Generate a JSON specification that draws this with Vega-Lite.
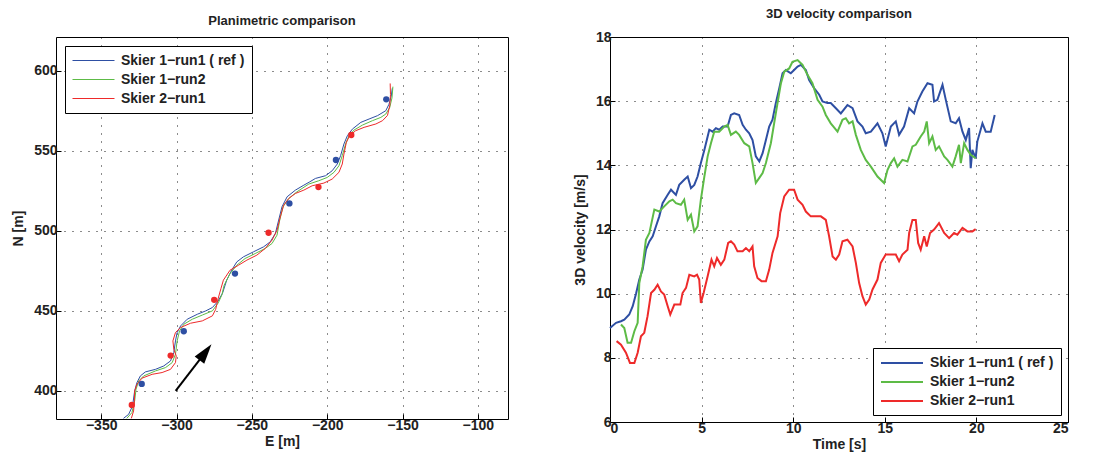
{
  "$schema": "https://vega.github.io/schema/vega-lite/v6.json",
  "background": "white",
  "padding": {"left": 11, "top": 7, "right": 5, "bottom": 5},
  "config": {
    "font": "Liberation Sans",
    "view": {"stroke": "black", "strokeWidth": 1},
    "title": {"fontSize": 13, "fontWeight": "bold", "color": "#222", "offset": 9},
    "axis": {"labelFontSize": 14, "labelFontWeight": "bold", "labelColor": "#222", "titleFontSize": 14, "titleFontWeight": "bold", "titleColor": "#222", "grid": true, "gridColor": "black", "gridDash": [1, 7], "gridOpacity": 0.9, "domain": false, "tickColor": "black", "tickSize": -5, "labelPadding": 4}
  },
  "resolve": {"scale": {"color": "independent"}, "legend": {"color": "independent"}},
  "spacing": 63,
  "datasets": {
    "traj": [
      {"series": "Skier 1−run1 ( ref )", "i": 1, "E": -335.2, "N": 382.9},
      {"series": "Skier 1−run1 ( ref )", "i": 2, "E": -331.8, "N": 385.4},
      {"series": "Skier 1−run1 ( ref )", "i": 3, "E": -329.2, "N": 390.6},
      {"series": "Skier 1−run1 ( ref )", "i": 4, "E": -327.8, "N": 400},
      {"series": "Skier 1−run1 ( ref )", "i": 5, "E": -326.3, "N": 405.2},
      {"series": "Skier 1−run1 ( ref )", "i": 6, "E": -324, "N": 409.4},
      {"series": "Skier 1−run1 ( ref )", "i": 7, "E": -320.7, "N": 411.9},
      {"series": "Skier 1−run1 ( ref )", "i": 8, "E": -314, "N": 413.5},
      {"series": "Skier 1−run1 ( ref )", "i": 9, "E": -308.5, "N": 415.6},
      {"series": "Skier 1−run1 ( ref )", "i": 10, "E": -304, "N": 418.75},
      {"series": "Skier 1−run1 ( ref )", "i": 11, "E": -301.8, "N": 424},
      {"series": "Skier 1−run1 ( ref )", "i": 12, "E": -300.7, "N": 431.25},
      {"series": "Skier 1−run1 ( ref )", "i": 13, "E": -299.6, "N": 436.5},
      {"series": "Skier 1−run1 ( ref )", "i": 14, "E": -297.3, "N": 440.6},
      {"series": "Skier 1−run1 ( ref )", "i": 15, "E": -292.9, "N": 444.8},
      {"series": "Skier 1−run1 ( ref )", "i": 16, "E": -286.2, "N": 447.9},
      {"series": "Skier 1−run1 ( ref )", "i": 17, "E": -280.6, "N": 450},
      {"series": "Skier 1−run1 ( ref )", "i": 18, "E": -276.2, "N": 452.1},
      {"series": "Skier 1−run1 ( ref )", "i": 19, "E": -272.5, "N": 456},
      {"series": "Skier 1−run1 ( ref )", "i": 20, "E": -269.5, "N": 461},
      {"series": "Skier 1−run1 ( ref )", "i": 21, "E": -266.7, "N": 469.2},
      {"series": "Skier 1−run1 ( ref )", "i": 22, "E": -263.4, "N": 475.4},
      {"series": "Skier 1−run1 ( ref )", "i": 23, "E": -260, "N": 480.6},
      {"series": "Skier 1−run1 ( ref )", "i": 24, "E": -255.6, "N": 483.75},
      {"series": "Skier 1−run1 ( ref )", "i": 25, "E": -248.9, "N": 486.9},
      {"series": "Skier 1−run1 ( ref )", "i": 26, "E": -242.2, "N": 490},
      {"series": "Skier 1−run1 ( ref )", "i": 27, "E": -237.8, "N": 493.1},
      {"series": "Skier 1−run1 ( ref )", "i": 28, "E": -234.4, "N": 498.3},
      {"series": "Skier 1−run1 ( ref )", "i": 29, "E": -232.2, "N": 506.7},
      {"series": "Skier 1−run1 ( ref )", "i": 30, "E": -230, "N": 515},
      {"series": "Skier 1−run1 ( ref )", "i": 31, "E": -226.6, "N": 521.25},
      {"series": "Skier 1−run1 ( ref )", "i": 32, "E": -221.1, "N": 525.4},
      {"series": "Skier 1−run1 ( ref )", "i": 33, "E": -215.5, "N": 528.5},
      {"series": "Skier 1−run1 ( ref )", "i": 34, "E": -211.5, "N": 530.6},
      {"series": "Skier 1−run1 ( ref )", "i": 35, "E": -207.8, "N": 532.7},
      {"series": "Skier 1−run1 ( ref )", "i": 36, "E": -201.1, "N": 534.4},
      {"series": "Skier 1−run1 ( ref )", "i": 37, "E": -196.7, "N": 537.5},
      {"series": "Skier 1−run1 ( ref )", "i": 38, "E": -193.3, "N": 541.7},
      {"series": "Skier 1−run1 ( ref )", "i": 39, "E": -191.1, "N": 546.9},
      {"series": "Skier 1−run1 ( ref )", "i": 40, "E": -188.9, "N": 554.2},
      {"series": "Skier 1−run1 ( ref )", "i": 41, "E": -186.6, "N": 559.4},
      {"series": "Skier 1−run1 ( ref )", "i": 42, "E": -183.3, "N": 563.5},
      {"series": "Skier 1−run1 ( ref )", "i": 43, "E": -177.7, "N": 567.7},
      {"series": "Skier 1−run1 ( ref )", "i": 44, "E": -172.2, "N": 569.8},
      {"series": "Skier 1−run1 ( ref )", "i": 45, "E": -166.6, "N": 571.9},
      {"series": "Skier 1−run1 ( ref )", "i": 46, "E": -161.1, "N": 575},
      {"series": "Skier 1−run1 ( ref )", "i": 47, "E": -159, "N": 579},
      {"series": "Skier 1−run1 ( ref )", "i": 48, "E": -157.5, "N": 584},
      {"series": "Skier 1−run1 ( ref )", "i": 49, "E": -156.8, "N": 589},
      {"series": "Skier 1−run2", "i": 1, "E": -333, "N": 382.9},
      {"series": "Skier 1−run2", "i": 2, "E": -329.6, "N": 386.5},
      {"series": "Skier 1−run2", "i": 3, "E": -327.8, "N": 393.75},
      {"series": "Skier 1−run2", "i": 4, "E": -326.9, "N": 401},
      {"series": "Skier 1−run2", "i": 5, "E": -325.1, "N": 406.25},
      {"series": "Skier 1−run2", "i": 6, "E": -321.8, "N": 409.4},
      {"series": "Skier 1−run2", "i": 7, "E": -314, "N": 412.5},
      {"series": "Skier 1−run2", "i": 8, "E": -307.3, "N": 414.6},
      {"series": "Skier 1−run2", "i": 9, "E": -302.9, "N": 417.7},
      {"series": "Skier 1−run2", "i": 10, "E": -300.7, "N": 422.9},
      {"series": "Skier 1−run2", "i": 11, "E": -299.6, "N": 431.25},
      {"series": "Skier 1−run2", "i": 12, "E": -298, "N": 437.5},
      {"series": "Skier 1−run2", "i": 13, "E": -295.1, "N": 441.7},
      {"series": "Skier 1−run2", "i": 14, "E": -289.5, "N": 444.8},
      {"series": "Skier 1−run2", "i": 15, "E": -282.9, "N": 447.4},
      {"series": "Skier 1−run2", "i": 16, "E": -276.2, "N": 450},
      {"series": "Skier 1−run2", "i": 17, "E": -272.3, "N": 455},
      {"series": "Skier 1−run2", "i": 18, "E": -269.9, "N": 460},
      {"series": "Skier 1−run2", "i": 19, "E": -268.4, "N": 466},
      {"series": "Skier 1−run2", "i": 20, "E": -264.5, "N": 473.3},
      {"series": "Skier 1−run2", "i": 21, "E": -260, "N": 478.5},
      {"series": "Skier 1−run2", "i": 22, "E": -254.5, "N": 482.7},
      {"series": "Skier 1−run2", "i": 23, "E": -247.8, "N": 485.8},
      {"series": "Skier 1−run2", "i": 24, "E": -241.1, "N": 489},
      {"series": "Skier 1−run2", "i": 25, "E": -236.6, "N": 492.1},
      {"series": "Skier 1−run2", "i": 26, "E": -233.3, "N": 497.3},
      {"series": "Skier 1−run2", "i": 27, "E": -231.5, "N": 506.7},
      {"series": "Skier 1−run2", "i": 28, "E": -229.3, "N": 515},
      {"series": "Skier 1−run2", "i": 29, "E": -225.5, "N": 520.2},
      {"series": "Skier 1−run2", "i": 30, "E": -220, "N": 524.4},
      {"series": "Skier 1−run2", "i": 31, "E": -212.2, "N": 529.2},
      {"series": "Skier 1−run2", "i": 32, "E": -205.6, "N": 531.25},
      {"series": "Skier 1−run2", "i": 33, "E": -200, "N": 533.3},
      {"series": "Skier 1−run2", "i": 34, "E": -195.5, "N": 536.5},
      {"series": "Skier 1−run2", "i": 35, "E": -192.2, "N": 540.6},
      {"series": "Skier 1−run2", "i": 36, "E": -190, "N": 546.9},
      {"series": "Skier 1−run2", "i": 37, "E": -187.8, "N": 554.2},
      {"series": "Skier 1−run2", "i": 38, "E": -185.5, "N": 559.4},
      {"series": "Skier 1−run2", "i": 39, "E": -182.2, "N": 562.9},
      {"series": "Skier 1−run2", "i": 40, "E": -176.6, "N": 566},
      {"series": "Skier 1−run2", "i": 41, "E": -170, "N": 568.75},
      {"series": "Skier 1−run2", "i": 42, "E": -164.4, "N": 570.8},
      {"series": "Skier 1−run2", "i": 43, "E": -161.1, "N": 572.9},
      {"series": "Skier 1−run2", "i": 44, "E": -158.5, "N": 577},
      {"series": "Skier 1−run2", "i": 45, "E": -157, "N": 583},
      {"series": "Skier 1−run2", "i": 46, "E": -156.4, "N": 590},
      {"series": "Skier 2−run1", "i": 1, "E": -330, "N": 382.9},
      {"series": "Skier 2−run1", "i": 2, "E": -328.5, "N": 387.5},
      {"series": "Skier 2−run1", "i": 3, "E": -328, "N": 393.75},
      {"series": "Skier 2−run1", "i": 4, "E": -327.8, "N": 400},
      {"series": "Skier 2−run1", "i": 5, "E": -326.3, "N": 404.2},
      {"series": "Skier 2−run1", "i": 6, "E": -322.9, "N": 408},
      {"series": "Skier 2−run1", "i": 7, "E": -316.2, "N": 410.4},
      {"series": "Skier 2−run1", "i": 8, "E": -309.6, "N": 411.5},
      {"series": "Skier 2−run1", "i": 9, "E": -304, "N": 413.5},
      {"series": "Skier 2−run1", "i": 10, "E": -300.7, "N": 417.7},
      {"series": "Skier 2−run1", "i": 11, "E": -300.2, "N": 421.9},
      {"series": "Skier 2−run1", "i": 12, "E": -301.8, "N": 426},
      {"series": "Skier 2−run1", "i": 13, "E": -302.4, "N": 431.25},
      {"series": "Skier 2−run1", "i": 14, "E": -300.7, "N": 436.5},
      {"series": "Skier 2−run1", "i": 15, "E": -297.3, "N": 439.6},
      {"series": "Skier 2−run1", "i": 16, "E": -290.7, "N": 442.3},
      {"series": "Skier 2−run1", "i": 17, "E": -282.9, "N": 443.75},
      {"series": "Skier 2−run1", "i": 18, "E": -276.2, "N": 446.9},
      {"series": "Skier 2−run1", "i": 19, "E": -274, "N": 451},
      {"series": "Skier 2−run1", "i": 20, "E": -272.3, "N": 458},
      {"series": "Skier 2−run1", "i": 21, "E": -270.5, "N": 464},
      {"series": "Skier 2−run1", "i": 22, "E": -268.9, "N": 469.2},
      {"series": "Skier 2−run1", "i": 23, "E": -264.5, "N": 475.4},
      {"series": "Skier 2−run1", "i": 24, "E": -258.9, "N": 478.5},
      {"series": "Skier 2−run1", "i": 25, "E": -253.3, "N": 481.7},
      {"series": "Skier 2−run1", "i": 26, "E": -246.7, "N": 484.8},
      {"series": "Skier 2−run1", "i": 27, "E": -241.1, "N": 489},
      {"series": "Skier 2−run1", "i": 28, "E": -236.6, "N": 494.2},
      {"series": "Skier 2−run1", "i": 29, "E": -233.3, "N": 500.4},
      {"series": "Skier 2−run1", "i": 30, "E": -231.1, "N": 508.75},
      {"series": "Skier 2−run1", "i": 31, "E": -228.9, "N": 516},
      {"series": "Skier 2−run1", "i": 32, "E": -225.5, "N": 520.2},
      {"series": "Skier 2−run1", "i": 33, "E": -221.1, "N": 523.3},
      {"series": "Skier 2−run1", "i": 34, "E": -215.5, "N": 525.4},
      {"series": "Skier 2−run1", "i": 35, "E": -210, "N": 528.1},
      {"series": "Skier 2−run1", "i": 36, "E": -202.2, "N": 529.8},
      {"series": "Skier 2−run1", "i": 37, "E": -196.7, "N": 532.3},
      {"series": "Skier 2−run1", "i": 38, "E": -192.2, "N": 536.5},
      {"series": "Skier 2−run1", "i": 39, "E": -190, "N": 541.7},
      {"series": "Skier 2−run1", "i": 40, "E": -188.9, "N": 547.9},
      {"series": "Skier 2−run1", "i": 41, "E": -187.3, "N": 555.2},
      {"series": "Skier 2−run1", "i": 42, "E": -185.1, "N": 559.4},
      {"series": "Skier 2−run1", "i": 43, "E": -181.1, "N": 562.5},
      {"series": "Skier 2−run1", "i": 44, "E": -175.5, "N": 564.6},
      {"series": "Skier 2−run1", "i": 45, "E": -167.7, "N": 566.7},
      {"series": "Skier 2−run1", "i": 46, "E": -163.3, "N": 568.75},
      {"series": "Skier 2−run1", "i": 47, "E": -160, "N": 572},
      {"series": "Skier 2−run1", "i": 48, "E": -158.5, "N": 578},
      {"series": "Skier 2−run1", "i": 49, "E": -158, "N": 585},
      {"series": "Skier 2−run1", "i": 50, "E": -158.2, "N": 592}
    ],
    "blueDots": [
      {"E": -160.8, "N": 582.1}, {"E": -194.2, "N": 544.2}, {"E": -225.1, "N": 517.1},
      {"E": -261.2, "N": 473.3}, {"E": -295.2, "N": 437.3}, {"E": -323.1, "N": 404.4}
    ],
    "redDots": [
      {"E": -184, "N": 559.8}, {"E": -205.8, "N": 527.3}, {"E": -238.9, "N": 498.8},
      {"E": -275, "N": 456.9}, {"E": -303.9, "N": 422.1}, {"E": -329.7, "N": 391.3}
    ],
    "arrow": [
      {"E": -300.6, "N": 400}, {"E": -279.5, "N": 425.8}
    ],
    "arrowTip": [
      {"E": -276.8, "N": 429.2}
    ],
    "vel": [
      {"series": "Skier 1−run1 ( ref )", "t": 0, "v": 8.93},
      {"series": "Skier 1−run1 ( ref )", "t": 0.33, "v": 9.09},
      {"series": "Skier 1−run1 ( ref )", "t": 0.6, "v": 9.14},
      {"series": "Skier 1−run1 ( ref )", "t": 0.78, "v": 9.19},
      {"series": "Skier 1−run1 ( ref )", "t": 1.05, "v": 9.35},
      {"series": "Skier 1−run1 ( ref )", "t": 1.24, "v": 9.61},
      {"series": "Skier 1−run1 ( ref )", "t": 1.42, "v": 10.0},
      {"series": "Skier 1−run1 ( ref )", "t": 1.6, "v": 10.44},
      {"series": "Skier 1−run1 ( ref )", "t": 1.78, "v": 10.75},
      {"series": "Skier 1−run1 ( ref )", "t": 1.96, "v": 11.37},
      {"series": "Skier 1−run1 ( ref )", "t": 2.15, "v": 11.63},
      {"series": "Skier 1−run1 ( ref )", "t": 2.33, "v": 11.79},
      {"series": "Skier 1−run1 ( ref )", "t": 2.51, "v": 12.1},
      {"series": "Skier 1−run1 ( ref )", "t": 2.69, "v": 12.41},
      {"series": "Skier 1−run1 ( ref )", "t": 2.87, "v": 12.82},
      {"series": "Skier 1−run1 ( ref )", "t": 3.15, "v": 13.08},
      {"series": "Skier 1−run1 ( ref )", "t": 3.33, "v": 13.24},
      {"series": "Skier 1−run1 ( ref )", "t": 3.6, "v": 13.08},
      {"series": "Skier 1−run1 ( ref )", "t": 3.78, "v": 13.39},
      {"series": "Skier 1−run1 ( ref )", "t": 4.05, "v": 13.55},
      {"series": "Skier 1−run1 ( ref )", "t": 4.24, "v": 13.65},
      {"series": "Skier 1−run1 ( ref )", "t": 4.42, "v": 13.29},
      {"series": "Skier 1−run1 ( ref )", "t": 4.6, "v": 13.39},
      {"series": "Skier 1−run1 ( ref )", "t": 4.78, "v": 13.65},
      {"series": "Skier 1−run1 ( ref )", "t": 4.96, "v": 14.07},
      {"series": "Skier 1−run1 ( ref )", "t": 5.15, "v": 14.48},
      {"series": "Skier 1−run1 ( ref )", "t": 5.33, "v": 14.9},
      {"series": "Skier 1−run1 ( ref )", "t": 5.42, "v": 15.11},
      {"series": "Skier 1−run1 ( ref )", "t": 5.6, "v": 15.05},
      {"series": "Skier 1−run1 ( ref )", "t": 5.78, "v": 15.16},
      {"series": "Skier 1−run1 ( ref )", "t": 5.96, "v": 15.11},
      {"series": "Skier 1−run1 ( ref )", "t": 6.15, "v": 15.21},
      {"series": "Skier 1−run1 ( ref )", "t": 6.42, "v": 15.21},
      {"series": "Skier 1−run1 ( ref )", "t": 6.6, "v": 15.57},
      {"series": "Skier 1−run1 ( ref )", "t": 6.78, "v": 15.62},
      {"series": "Skier 1−run1 ( ref )", "t": 7.05, "v": 15.57},
      {"series": "Skier 1−run1 ( ref )", "t": 7.24, "v": 15.26},
      {"series": "Skier 1−run1 ( ref )", "t": 7.42, "v": 15.11},
      {"series": "Skier 1−run1 ( ref )", "t": 7.6, "v": 15.0},
      {"series": "Skier 1−run1 ( ref )", "t": 7.78, "v": 14.79},
      {"series": "Skier 1−run1 ( ref )", "t": 7.96, "v": 14.28},
      {"series": "Skier 1−run1 ( ref )", "t": 8.15, "v": 14.12},
      {"series": "Skier 1−run1 ( ref )", "t": 8.33, "v": 14.38},
      {"series": "Skier 1−run1 ( ref )", "t": 8.51, "v": 14.79},
      {"series": "Skier 1−run1 ( ref )", "t": 8.69, "v": 15.21},
      {"series": "Skier 1−run1 ( ref )", "t": 8.87, "v": 15.42},
      {"series": "Skier 1−run1 ( ref )", "t": 9.05, "v": 15.94},
      {"series": "Skier 1−run1 ( ref )", "t": 9.24, "v": 16.4},
      {"series": "Skier 1−run1 ( ref )", "t": 9.42, "v": 16.87},
      {"series": "Skier 1−run1 ( ref )", "t": 9.6, "v": 16.97},
      {"series": "Skier 1−run1 ( ref )", "t": 9.87, "v": 16.87},
      {"series": "Skier 1−run1 ( ref )", "t": 10.05, "v": 16.97},
      {"series": "Skier 1−run1 ( ref )", "t": 10.24, "v": 17.08},
      {"series": "Skier 1−run1 ( ref )", "t": 10.42, "v": 17.13},
      {"series": "Skier 1−run1 ( ref )", "t": 10.69, "v": 16.97},
      {"series": "Skier 1−run1 ( ref )", "t": 10.87, "v": 16.66},
      {"series": "Skier 1−run1 ( ref )", "t": 11.15, "v": 16.4},
      {"series": "Skier 1−run1 ( ref )", "t": 11.42, "v": 16.2},
      {"series": "Skier 1−run1 ( ref )", "t": 11.6, "v": 15.99},
      {"series": "Skier 1−run1 ( ref )", "t": 11.87, "v": 15.94},
      {"series": "Skier 1−run1 ( ref )", "t": 12.05, "v": 15.94},
      {"series": "Skier 1−run1 ( ref )", "t": 12.33, "v": 15.78},
      {"series": "Skier 1−run1 ( ref )", "t": 12.6, "v": 15.62},
      {"series": "Skier 1−run1 ( ref )", "t": 12.96, "v": 15.88},
      {"series": "Skier 1−run1 ( ref )", "t": 13.24, "v": 15.78},
      {"series": "Skier 1−run1 ( ref )", "t": 13.51, "v": 15.37},
      {"series": "Skier 1−run1 ( ref )", "t": 13.78, "v": 15.21},
      {"series": "Skier 1−run1 ( ref )", "t": 13.96, "v": 15.0},
      {"series": "Skier 1−run1 ( ref )", "t": 14.24, "v": 15.05},
      {"series": "Skier 1−run1 ( ref )", "t": 14.6, "v": 15.31},
      {"series": "Skier 1−run1 ( ref )", "t": 14.87, "v": 15.0},
      {"series": "Skier 1−run1 ( ref )", "t": 15.05, "v": 14.59},
      {"series": "Skier 1−run1 ( ref )", "t": 15.33, "v": 15.21},
      {"series": "Skier 1−run1 ( ref )", "t": 15.6, "v": 15.37},
      {"series": "Skier 1−run1 ( ref )", "t": 15.78, "v": 14.95},
      {"series": "Skier 1−run1 ( ref )", "t": 16.05, "v": 15.21},
      {"series": "Skier 1−run1 ( ref )", "t": 16.33, "v": 15.78},
      {"series": "Skier 1−run1 ( ref )", "t": 16.6, "v": 15.62},
      {"series": "Skier 1−run1 ( ref )", "t": 16.78, "v": 15.99},
      {"series": "Skier 1−run1 ( ref )", "t": 17.05, "v": 16.3},
      {"series": "Skier 1−run1 ( ref )", "t": 17.33, "v": 16.56},
      {"series": "Skier 1−run1 ( ref )", "t": 17.6, "v": 16.51},
      {"series": "Skier 1−run1 ( ref )", "t": 17.69, "v": 15.99},
      {"series": "Skier 1−run1 ( ref )", "t": 17.87, "v": 16.04},
      {"series": "Skier 1−run1 ( ref )", "t": 18.15, "v": 16.51},
      {"series": "Skier 1−run1 ( ref )", "t": 18.33, "v": 16.04},
      {"series": "Skier 1−run1 ( ref )", "t": 18.6, "v": 15.37},
      {"series": "Skier 1−run1 ( ref )", "t": 18.87, "v": 15.31},
      {"series": "Skier 1−run1 ( ref )", "t": 19.05, "v": 15.47},
      {"series": "Skier 1−run1 ( ref )", "t": 19.24, "v": 15.05},
      {"series": "Skier 1−run1 ( ref )", "t": 19.42, "v": 14.79},
      {"series": "Skier 1−run1 ( ref )", "t": 19.6, "v": 15.16},
      {"series": "Skier 1−run1 ( ref )", "t": 19.69, "v": 13.91},
      {"series": "Skier 1−run1 ( ref )", "t": 19.78, "v": 14.48},
      {"series": "Skier 1−run1 ( ref )", "t": 19.96, "v": 14.22},
      {"series": "Skier 1−run1 ( ref )", "t": 20.05, "v": 14.74},
      {"series": "Skier 1−run1 ( ref )", "t": 20.33, "v": 15.31},
      {"series": "Skier 1−run1 ( ref )", "t": 20.51, "v": 15.05},
      {"series": "Skier 1−run1 ( ref )", "t": 20.78, "v": 15.05},
      {"series": "Skier 1−run1 ( ref )", "t": 21.0, "v": 15.57},
      {"series": "Skier 1−run2", "t": 0.6, "v": 9.04},
      {"series": "Skier 1−run2", "t": 0.78, "v": 8.93},
      {"series": "Skier 1−run2", "t": 0.96, "v": 8.47},
      {"series": "Skier 1−run2", "t": 1.15, "v": 8.47},
      {"series": "Skier 1−run2", "t": 1.33, "v": 8.83},
      {"series": "Skier 1−run2", "t": 1.51, "v": 9.09},
      {"series": "Skier 1−run2", "t": 1.6, "v": 10.33},
      {"series": "Skier 1−run2", "t": 1.78, "v": 10.85},
      {"series": "Skier 1−run2", "t": 1.96, "v": 11.68},
      {"series": "Skier 1−run2", "t": 2.15, "v": 11.89},
      {"series": "Skier 1−run2", "t": 2.42, "v": 12.62},
      {"series": "Skier 1−run2", "t": 2.69, "v": 12.56},
      {"series": "Skier 1−run2", "t": 2.96, "v": 12.72},
      {"series": "Skier 1−run2", "t": 3.24, "v": 12.88},
      {"series": "Skier 1−run2", "t": 3.42, "v": 12.93},
      {"series": "Skier 1−run2", "t": 3.6, "v": 12.82},
      {"series": "Skier 1−run2", "t": 3.87, "v": 12.77},
      {"series": "Skier 1−run2", "t": 4.05, "v": 12.93},
      {"series": "Skier 1−run2", "t": 4.24, "v": 12.3},
      {"series": "Skier 1−run2", "t": 4.42, "v": 12.46},
      {"series": "Skier 1−run2", "t": 4.6, "v": 11.94},
      {"series": "Skier 1−run2", "t": 4.78, "v": 12.1},
      {"series": "Skier 1−run2", "t": 4.96, "v": 12.93},
      {"series": "Skier 1−run2", "t": 5.15, "v": 13.65},
      {"series": "Skier 1−run2", "t": 5.33, "v": 14.28},
      {"series": "Skier 1−run2", "t": 5.51, "v": 14.69},
      {"series": "Skier 1−run2", "t": 5.69, "v": 15.05},
      {"series": "Skier 1−run2", "t": 5.96, "v": 15.05},
      {"series": "Skier 1−run2", "t": 6.24, "v": 15.21},
      {"series": "Skier 1−run2", "t": 6.42, "v": 15.26},
      {"series": "Skier 1−run2", "t": 6.6, "v": 14.95},
      {"series": "Skier 1−run2", "t": 6.87, "v": 15.05},
      {"series": "Skier 1−run2", "t": 7.05, "v": 14.95},
      {"series": "Skier 1−run2", "t": 7.33, "v": 14.69},
      {"series": "Skier 1−run2", "t": 7.6, "v": 14.59},
      {"series": "Skier 1−run2", "t": 7.78, "v": 14.07},
      {"series": "Skier 1−run2", "t": 7.96, "v": 13.45},
      {"series": "Skier 1−run2", "t": 8.15, "v": 13.61},
      {"series": "Skier 1−run2", "t": 8.33, "v": 13.76},
      {"series": "Skier 1−run2", "t": 8.51, "v": 14.07},
      {"series": "Skier 1−run2", "t": 8.78, "v": 14.69},
      {"series": "Skier 1−run2", "t": 9.05, "v": 15.62},
      {"series": "Skier 1−run2", "t": 9.33, "v": 16.56},
      {"series": "Skier 1−run2", "t": 9.51, "v": 16.92},
      {"series": "Skier 1−run2", "t": 9.78, "v": 17.02},
      {"series": "Skier 1−run2", "t": 9.96, "v": 17.23},
      {"series": "Skier 1−run2", "t": 10.24, "v": 17.28},
      {"series": "Skier 1−run2", "t": 10.51, "v": 17.13},
      {"series": "Skier 1−run2", "t": 10.78, "v": 16.82},
      {"series": "Skier 1−run2", "t": 11.05, "v": 16.56},
      {"series": "Skier 1−run2", "t": 11.33, "v": 16.04},
      {"series": "Skier 1−run2", "t": 11.6, "v": 15.83},
      {"series": "Skier 1−run2", "t": 11.78, "v": 15.57},
      {"series": "Skier 1−run2", "t": 12.05, "v": 15.31},
      {"series": "Skier 1−run2", "t": 12.42, "v": 15.05},
      {"series": "Skier 1−run2", "t": 12.69, "v": 15.42},
      {"series": "Skier 1−run2", "t": 12.87, "v": 15.47},
      {"series": "Skier 1−run2", "t": 13.05, "v": 15.31},
      {"series": "Skier 1−run2", "t": 13.24, "v": 15.37},
      {"series": "Skier 1−run2", "t": 13.42, "v": 14.95},
      {"series": "Skier 1−run2", "t": 13.69, "v": 14.48},
      {"series": "Skier 1−run2", "t": 13.96, "v": 14.17},
      {"series": "Skier 1−run2", "t": 14.24, "v": 13.96},
      {"series": "Skier 1−run2", "t": 14.6, "v": 13.65},
      {"series": "Skier 1−run2", "t": 14.96, "v": 13.45},
      {"series": "Skier 1−run2", "t": 15.15, "v": 13.86},
      {"series": "Skier 1−run2", "t": 15.33, "v": 14.07},
      {"series": "Skier 1−run2", "t": 15.51, "v": 14.22},
      {"series": "Skier 1−run2", "t": 15.69, "v": 13.96},
      {"series": "Skier 1−run2", "t": 15.96, "v": 14.17},
      {"series": "Skier 1−run2", "t": 16.24, "v": 14.12},
      {"series": "Skier 1−run2", "t": 16.51, "v": 14.59},
      {"series": "Skier 1−run2", "t": 16.69, "v": 14.64},
      {"series": "Skier 1−run2", "t": 16.96, "v": 14.9},
      {"series": "Skier 1−run2", "t": 17.15, "v": 15.05},
      {"series": "Skier 1−run2", "t": 17.29, "v": 15.37},
      {"series": "Skier 1−run2", "t": 17.42, "v": 14.69},
      {"series": "Skier 1−run2", "t": 17.6, "v": 14.9},
      {"series": "Skier 1−run2", "t": 17.78, "v": 14.48},
      {"series": "Skier 1−run2", "t": 17.96, "v": 14.59},
      {"series": "Skier 1−run2", "t": 18.24, "v": 14.28},
      {"series": "Skier 1−run2", "t": 18.42, "v": 14.17},
      {"series": "Skier 1−run2", "t": 18.69, "v": 13.96},
      {"series": "Skier 1−run2", "t": 18.87, "v": 14.28},
      {"series": "Skier 1−run2", "t": 19.05, "v": 14.64},
      {"series": "Skier 1−run2", "t": 19.15, "v": 14.07},
      {"series": "Skier 1−run2", "t": 19.33, "v": 14.69},
      {"series": "Skier 1−run2", "t": 19.51, "v": 14.48},
      {"series": "Skier 1−run2", "t": 19.69, "v": 14.33},
      {"series": "Skier 1−run2", "t": 19.96, "v": 14.22},
      {"series": "Skier 2−run1", "t": 0.36, "v": 8.52},
      {"series": "Skier 2−run1", "t": 0.6, "v": 8.41},
      {"series": "Skier 2−run1", "t": 0.87, "v": 8.16},
      {"series": "Skier 2−run1", "t": 1.09, "v": 7.84},
      {"series": "Skier 2−run1", "t": 1.33, "v": 7.84},
      {"series": "Skier 2−run1", "t": 1.51, "v": 8.16},
      {"series": "Skier 2−run1", "t": 1.69, "v": 8.67},
      {"series": "Skier 2−run1", "t": 1.87, "v": 8.78},
      {"series": "Skier 2−run1", "t": 2.05, "v": 9.3},
      {"series": "Skier 2−run1", "t": 2.24, "v": 10.02},
      {"series": "Skier 2−run1", "t": 2.42, "v": 10.12},
      {"series": "Skier 2−run1", "t": 2.6, "v": 10.28},
      {"series": "Skier 2−run1", "t": 2.78, "v": 10.07},
      {"series": "Skier 2−run1", "t": 2.96, "v": 9.97},
      {"series": "Skier 2−run1", "t": 3.15, "v": 9.61},
      {"series": "Skier 2−run1", "t": 3.29, "v": 9.35},
      {"series": "Skier 2−run1", "t": 3.51, "v": 9.66},
      {"series": "Skier 2−run1", "t": 3.69, "v": 9.66},
      {"series": "Skier 2−run1", "t": 3.84, "v": 9.66},
      {"series": "Skier 2−run1", "t": 3.96, "v": 10.02},
      {"series": "Skier 2−run1", "t": 4.15, "v": 10.18},
      {"series": "Skier 2−run1", "t": 4.33, "v": 10.59},
      {"series": "Skier 2−run1", "t": 4.6, "v": 10.54},
      {"series": "Skier 2−run1", "t": 4.75, "v": 10.59},
      {"series": "Skier 2−run1", "t": 4.87, "v": 10.44},
      {"series": "Skier 2−run1", "t": 4.96, "v": 9.71},
      {"series": "Skier 2−run1", "t": 5.11, "v": 10.02},
      {"series": "Skier 2−run1", "t": 5.33, "v": 10.54},
      {"series": "Skier 2−run1", "t": 5.54, "v": 11.06},
      {"series": "Skier 2−run1", "t": 5.69, "v": 10.85},
      {"series": "Skier 2−run1", "t": 5.84, "v": 11.11},
      {"series": "Skier 2−run1", "t": 6.05, "v": 10.9},
      {"series": "Skier 2−run1", "t": 6.24, "v": 11.06},
      {"series": "Skier 2−run1", "t": 6.45, "v": 11.58},
      {"series": "Skier 2−run1", "t": 6.6, "v": 11.63},
      {"series": "Skier 2−run1", "t": 6.78, "v": 11.53},
      {"series": "Skier 2−run1", "t": 6.96, "v": 11.32},
      {"series": "Skier 2−run1", "t": 7.24, "v": 11.32},
      {"series": "Skier 2−run1", "t": 7.42, "v": 11.42},
      {"series": "Skier 2−run1", "t": 7.6, "v": 11.32},
      {"series": "Skier 2−run1", "t": 7.78, "v": 11.47},
      {"series": "Skier 2−run1", "t": 7.87, "v": 10.85},
      {"series": "Skier 2−run1", "t": 8.05, "v": 10.49},
      {"series": "Skier 2−run1", "t": 8.27, "v": 10.39},
      {"series": "Skier 2−run1", "t": 8.51, "v": 10.39},
      {"series": "Skier 2−run1", "t": 8.69, "v": 10.75},
      {"series": "Skier 2−run1", "t": 8.87, "v": 11.27},
      {"series": "Skier 2−run1", "t": 9.15, "v": 11.79},
      {"series": "Skier 2−run1", "t": 9.29, "v": 12.51},
      {"series": "Skier 2−run1", "t": 9.51, "v": 13.03},
      {"series": "Skier 2−run1", "t": 9.78, "v": 13.24},
      {"series": "Skier 2−run1", "t": 10.05, "v": 13.24},
      {"series": "Skier 2−run1", "t": 10.24, "v": 12.93},
      {"series": "Skier 2−run1", "t": 10.51, "v": 12.77},
      {"series": "Skier 2−run1", "t": 10.69, "v": 12.56},
      {"series": "Skier 2−run1", "t": 10.96, "v": 12.41},
      {"series": "Skier 2−run1", "t": 11.24, "v": 12.41},
      {"series": "Skier 2−run1", "t": 11.51, "v": 12.41},
      {"series": "Skier 2−run1", "t": 11.78, "v": 12.3},
      {"series": "Skier 2−run1", "t": 11.96, "v": 11.79},
      {"series": "Skier 2−run1", "t": 12.15, "v": 11.16},
      {"series": "Skier 2−run1", "t": 12.33, "v": 11.06},
      {"series": "Skier 2−run1", "t": 12.51, "v": 11.22},
      {"series": "Skier 2−run1", "t": 12.69, "v": 11.63},
      {"series": "Skier 2−run1", "t": 12.96, "v": 11.68},
      {"series": "Skier 2−run1", "t": 13.24, "v": 11.47},
      {"series": "Skier 2−run1", "t": 13.42, "v": 10.96},
      {"series": "Skier 2−run1", "t": 13.6, "v": 10.33},
      {"series": "Skier 2−run1", "t": 13.78, "v": 9.92},
      {"series": "Skier 2−run1", "t": 13.96, "v": 9.66},
      {"series": "Skier 2−run1", "t": 14.15, "v": 9.82},
      {"series": "Skier 2−run1", "t": 14.33, "v": 10.13},
      {"series": "Skier 2−run1", "t": 14.6, "v": 10.44},
      {"series": "Skier 2−run1", "t": 14.78, "v": 10.96},
      {"series": "Skier 2−run1", "t": 15.05, "v": 11.22},
      {"series": "Skier 2−run1", "t": 15.33, "v": 11.22},
      {"series": "Skier 2−run1", "t": 15.6, "v": 11.22},
      {"series": "Skier 2−run1", "t": 15.78, "v": 11.01},
      {"series": "Skier 2−run1", "t": 15.96, "v": 11.22},
      {"series": "Skier 2−run1", "t": 16.24, "v": 11.37},
      {"series": "Skier 2−run1", "t": 16.33, "v": 11.89},
      {"series": "Skier 2−run1", "t": 16.51, "v": 12.3},
      {"series": "Skier 2−run1", "t": 16.69, "v": 12.3},
      {"series": "Skier 2−run1", "t": 16.82, "v": 11.58},
      {"series": "Skier 2−run1", "t": 16.96, "v": 11.37},
      {"series": "Skier 2−run1", "t": 17.15, "v": 11.79},
      {"series": "Skier 2−run1", "t": 17.29, "v": 11.47},
      {"series": "Skier 2−run1", "t": 17.47, "v": 11.89},
      {"series": "Skier 2−run1", "t": 17.69, "v": 12.0},
      {"series": "Skier 2−run1", "t": 17.96, "v": 12.2},
      {"series": "Skier 2−run1", "t": 18.24, "v": 11.89},
      {"series": "Skier 2−run1", "t": 18.51, "v": 11.73},
      {"series": "Skier 2−run1", "t": 18.78, "v": 11.89},
      {"series": "Skier 2−run1", "t": 18.96, "v": 11.84},
      {"series": "Skier 2−run1", "t": 19.24, "v": 12.05},
      {"series": "Skier 2−run1", "t": 19.51, "v": 11.94},
      {"series": "Skier 2−run1", "t": 19.78, "v": 11.94},
      {"series": "Skier 2−run1", "t": 19.96, "v": 12.01}
    ]
  },
  "hconcat": [
    {
      "width": 452,
      "height": 382,
      "title": "Planimetric comparison",
      "layer": [
        {
          "data": {"name": "traj"},
          "mark": {"type": "line", "strokeWidth": 1, "clip": true},
          "encoding": {
            "x": {"field": "E", "type": "quantitative", "scale": {"domain": [-380, -80], "nice": false, "zero": false}, "axis": {"values": [-350, -300, -250, -200, -150, -100], "title": "E [m]", "titlePadding": 2}},
            "y": {"field": "N", "type": "quantitative", "scale": {"domain": [382.5, 621], "nice": false, "zero": false}, "axis": {"values": [400, 450, 500, 550, 600], "title": "N [m]", "titlePadding": 8}},
            "color": {"field": "series", "type": "nominal", "scale": {"domain": ["Skier 1−run1 ( ref )", "Skier 1−run2", "Skier 2−run1"], "range": ["#2E4FA3", "#5DBB46", "#EE2A2A"]}, "legend": {"title": null, "orient": "top-left", "offset": 9, "fillColor": "white", "strokeColor": "black", "padding": 7, "labelFontSize": 14, "labelFontWeight": "bold", "labelColor": "#222", "symbolType": "M-1,0H5", "symbolSize": 196, "symbolStrokeWidth": 1, "labelOffset": 34, "rowPadding": 4}},
            "order": {"field": "i", "type": "quantitative"}
          }
        },
        {
          "data": {"name": "blueDots"},
          "mark": {"type": "point", "filled": true, "color": "#2E4FA3", "size": 40, "opacity": 1},
          "encoding": {"x": {"field": "E", "type": "quantitative"}, "y": {"field": "N", "type": "quantitative"}}
        },
        {
          "data": {"name": "redDots"},
          "mark": {"type": "point", "filled": true, "color": "#EE2A2A", "size": 40, "opacity": 1},
          "encoding": {"x": {"field": "E", "type": "quantitative"}, "y": {"field": "N", "type": "quantitative"}}
        },
        {
          "data": {"name": "arrow"},
          "mark": {"type": "line", "color": "black", "strokeWidth": 2},
          "encoding": {"x": {"field": "E", "type": "quantitative"}, "y": {"field": "N", "type": "quantitative"}}
        },
        {
          "data": {"name": "arrowTip"},
          "mark": {"type": "point", "filled": true, "color": "black", "opacity": 1, "shape": "M0,0L0.6,2L-0.6,2Z", "size": 400, "angle": 37},
          "encoding": {"x": {"field": "E", "type": "quantitative"}, "y": {"field": "N", "type": "quantitative"}}
        }
      ]
    },
    {
      "width": 458,
      "height": 385,
      "title": "3D velocity comparison",
      "data": {"name": "vel"},
      "mark": {"type": "line", "strokeWidth": 2},
      "encoding": {
        "x": {"field": "t", "type": "quantitative", "scale": {"domain": [0, 25], "nice": false}, "axis": {"values": [0, 5, 10, 15, 20, 25], "title": "Time [s]", "titlePadding": 2}},
        "y": {"field": "v", "type": "quantitative", "scale": {"domain": [6, 18], "nice": false, "zero": false}, "axis": {"values": [6, 8, 10, 12, 14, 16, 18], "title": "3D velocity [m/s]", "titlePadding": 8}},
        "color": {"field": "series", "type": "nominal", "scale": {"domain": ["Skier 1−run1 ( ref )", "Skier 1−run2", "Skier 2−run1"], "range": ["#2E4FA3", "#5DBB46", "#EE2A2A"]}, "legend": {"title": null, "orient": "bottom-right", "offset": 7, "fillColor": "white", "strokeColor": "black", "padding": 7, "labelFontSize": 14, "labelFontWeight": "bold", "labelColor": "#222", "symbolType": "M-1,0H5", "symbolSize": 196, "symbolStrokeWidth": 2, "labelOffset": 34, "rowPadding": 4}}
      }
    }
  ]
}
